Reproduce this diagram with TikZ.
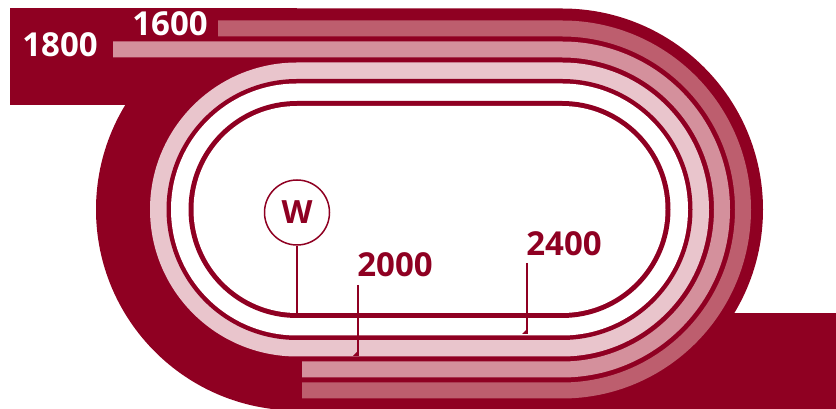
\documentclass[tikz,border=0pt]{standalone}
\usepackage{fontspec}
\setmainfont{Open Sans}
\usetikzlibrary{positioning}
\definecolor{trackred}{HTML}{8F0022}
\definecolor{pinkdark}{HTML}{BD5E6E}
\definecolor{pinkmid}{HTML}{D4909C}
\definecolor{pinklight}{HTML}{E9C5CC}
% one closed loop of the course, radius #1 round both bend centres
\newcommand{\trackloop}[1]{(297,{199.5+#1}) -- (562,{199.5+#1})
  arc[start angle=90,end angle=-90,radius=#1] -- (297,{199.5-#1})
  arc[start angle=270,end angle=90,radius=#1] -- cycle}

\begin{document}
\begin{tikzpicture}[
  x=1pt, y=1pt,
  band/.style={line width=16pt},
  pole/.style={draw=trackred, line width=1.5pt},
  dist/.style={font=\fontsize{33}{33}\selectfont\bfseries, inner sep=0pt},
  post/.style={circle, draw=trackred, line width=1.5pt, fill=white,
    minimum size=65pt, inner sep=0pt, text=trackred,
    font=\fontsize{32}{32}\selectfont\bfseries}
]
\useasboundingbox (0,0) rectangle (836,409);
\clip (0,0) rectangle (836,409);
\fill[white] (0,0) rectangle (836,409);

% outer ground
\fill[trackred] (10,401) rectangle (297,304);
\fill[trackred] (562,96) rectangle (836,0);
\fill[trackred] \trackloop{201};

% chutes for 1600 and 1800
\draw[band, pinkdark] (218,380.5) -- (562,380.5)
  arc[start angle=90,end angle=-90,radius=181] -- (302,18.5);
\draw[band, pinkmid] (113,359.5) -- (562,359.5)
  arc[start angle=90,end angle=-90,radius=160] -- (302,39.5);

% main course
\fill[pinklight] \trackloop{147};
\fill[trackred] \trackloop{130.5};
\fill[white] \trackloop{126};
\fill[trackred] \trackloop{108.5};
\fill[white] \trackloop{103.5};

% start labels
\node[dist, text=white] (s1800) at (60,364) {1800};
\node[dist, text=white] (s1600) at (170,385.5) {1600};

% winning post
\node[post] (w) at (297,196.5) {W};
\coordinate (wfoot) at (297,96);
\draw[pole] (w) -- (wfoot);

% 2000 start
\node[dist, text=trackred] (s2000) at (395,144.5) {2000};
\coordinate (top2000) at (358,124);
\coordinate (foot2000) at (358,53);
\draw[pole] (top2000) -- (foot2000);
\fill[trackred] (foot2000) -- ([xshift=-5pt]foot2000) -- ([yshift=5pt]foot2000) -- cycle;

% 2400 start
\node[dist, text=trackred] (s2400) at (564,165) {2400};
\coordinate (top2400) at (527,146);
\coordinate (foot2400) at (527,75);
\draw[pole] (top2400) -- (foot2400);
\fill[trackred] (foot2400) -- ([xshift=-5pt]foot2400) -- ([yshift=5pt]foot2400) -- cycle;
\end{tikzpicture}
\end{document}
